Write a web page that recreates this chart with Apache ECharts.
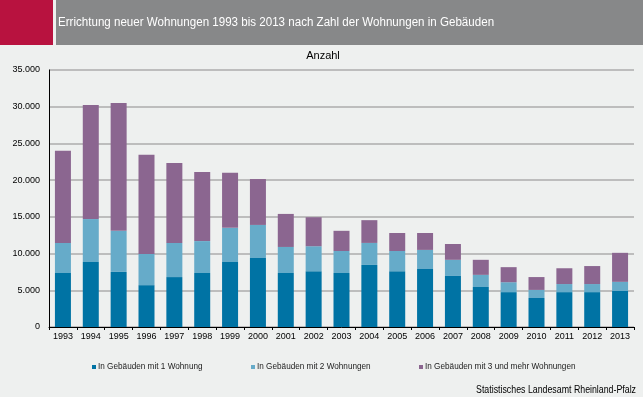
<!DOCTYPE html>
<html><head><meta charset="utf-8">
<script src="https://cdn.jsdelivr.net/npm/echarts@6/dist/echarts.min.js"></script>
<style>html,body{margin:0;padding:0;background:#eef0ef}#c{width:643px;height:397px}</style>
</head><body><div id="c"></div>
<script>
const years = ['1993','1994','1995','1996','1997','1998','1999','2000','2001','2002','2003','2004','2005','2006','2007','2008','2009','2010','2011','2012','2013'];
const oneFlat = [7350,8850,7500,5700,6800,7350,8850,9400,7350,7600,7350,8450,7600,7900,6950,5450,4750,3950,4750,4750,4900];
const twoFlats = [4100,5850,5600,4250,4650,4350,4650,4500,3550,3400,3000,3000,2750,2600,2200,1650,1350,1100,1100,1100,1250];
const threePlus = [12550,15550,17400,13500,10900,9400,7500,6250,4500,3950,2750,3100,2450,2300,2150,2050,2050,1750,2150,2450,3950];
const yTicks = [0,5000,10000,15000,20000,25000,30000,35000];
const seriesNames = ['In Gebäuden mit 1 Wohnung','In Gebäuden mit 2 Wohnungen','In Gebäuden mit 3 und mehr Wohnungen'];
const colors = ['#0073a4','#66abc9','#8b6690'];

const chart = echarts.init(document.getElementById('c'));
const fmt = v => String(v).replace(/\B(?=(\d{3})+(?!\d))/g, '.');
const font = 'Liberation Sans, Arial, sans-serif';
const legendLefts = [87, 246, 414];
chart.setOption({
  backgroundColor: '#eef0ef',
  animation: false,
  textStyle: {fontFamily: font},
  graphic: [
    {type:'rect', shape:{x:0,y:0,width:53,height:45}, style:{fill:'#b8123f'}},
    {type:'rect', shape:{x:56,y:0,width:587,height:45}, style:{fill:'#878889'}},
    {type:'text', x:58, y:23, scaleX:0.965, style:{text:'Errichtung neuer Wohnungen 1993 bis 2013 nach Zahl der Wohnungen in Gebäuden', fill:'#ffffff', font:'12px Liberation Sans, Arial, sans-serif', textAlign:'left', textVerticalAlign:'middle'}},
    {type:'text', x:323, y:56, style:{text:'Anzahl', fill:'#000', font:'11px Liberation Sans, Arial, sans-serif', textAlign:'center', textVerticalAlign:'middle'}},
    {type:'text', x:636, y:390, scaleX:0.88, style:{text:'Statistisches Landesamt Rheinland-Pfalz', fill:'#000', font:'10px Liberation Sans, Arial, sans-serif', textAlign:'right', textVerticalAlign:'middle'}}
  ],
  grid: {left:49, right:9, top:70, bottom:70},
  legend: seriesNames.map((n,i)=>({
    data:[n], left:legendLefts[i], top:358, icon:'rect', itemWidth:4, itemHeight:4, itemGap:0,
    textStyle:{fontSize:8.2, color:'#222', fontFamily:font, padding:[0,0,0,-3]}
  })),
  xAxis: {
    type:'category', data:years,
    axisLine:{lineStyle:{color:'#000'}},
    axisTick:{show:true, alignWithLabel:false, length:3, lineStyle:{color:'#000'}},
    axisLabel:{color:'#000', fontSize:9, margin:5, interval:0, fontFamily:font}
  },
  yAxis: {
    type:'value', min:0, max:35000, interval:5000,
    axisLine:{show:true, lineStyle:{color:'#000'}},
    axisTick:{show:false},
    splitLine:{lineStyle:{color:'#bdbdbd', width:2}},
    axisLabel:{color:'#000', fontSize:9, margin:9, fontFamily:font, formatter: v => yTicks.includes(v) ? fmt(v) : ''}
  },
  series: [oneFlat, twoFlats, threePlus].map((d,i)=>({
    name: seriesNames[i], type:'bar', stack:'total', data:d, barWidth:16,
    itemStyle:{color:colors[i]}
  }))
});
</script></body></html>
